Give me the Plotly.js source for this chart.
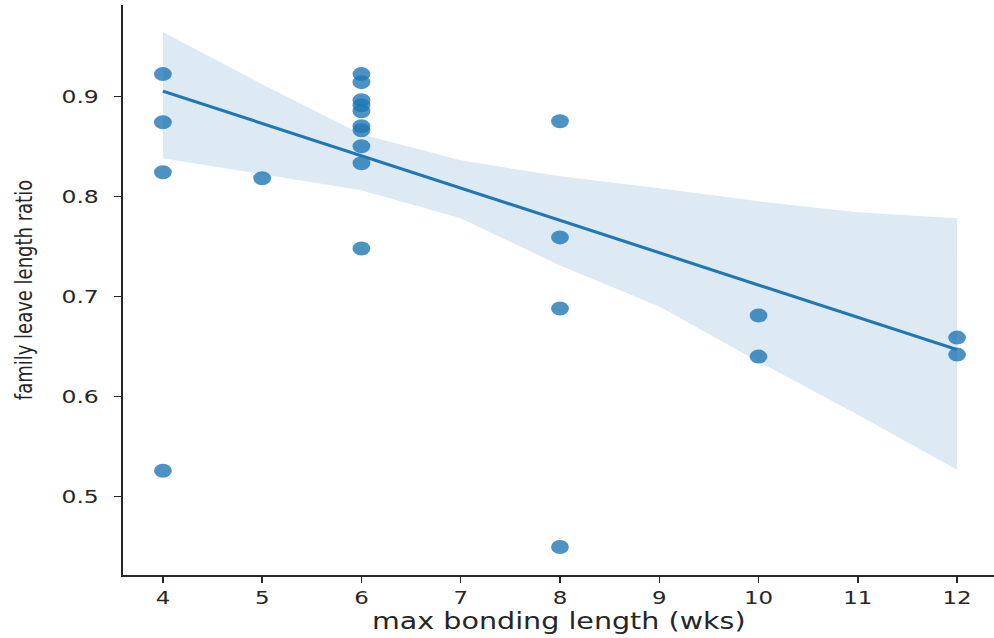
<!DOCTYPE html>
<html>
<head>
<meta charset="utf-8">
<script src="https://cdn.plot.ly/plotly-3.0.1.min.js"></script>
<style>
  html, body { margin: 0; padding: 0; background: #fff; overflow: hidden; }
  #wrap { width: 994px; height: 638px; overflow: hidden; }
  #chart { width: 783px; height: 638px; transform: scaleX(1.27); transform-origin: 0 0; }
</style>
</head>
<body>
<div id="wrap"><div id="chart"></div></div>
<script>
// Scatter data: max bonding length (weeks) vs family leave length ratio
const weeks = [4, 4, 4, 4,
               5,
               6, 6, 6, 6, 6, 6, 6, 6, 6, 6,
               8, 8, 8, 8,
               10, 10,
               12, 12];
const ratio = [0.922, 0.874, 0.824, 0.526,
               0.818,
               0.922, 0.914, 0.896, 0.891, 0.885, 0.870, 0.866, 0.850, 0.833, 0.748,
               0.875, 0.759, 0.688, 0.450,
               0.681, 0.640,
               0.659, 0.642];

// Fitted regression line
const fitX = [4, 12];
const fitY = [0.905, 0.647];

// Confidence band
const bandX     = [4, 5, 6, 7, 8, 9, 10, 11, 12];
const bandUpper = [0.964, 0.912, 0.862, 0.836, 0.820, 0.808, 0.795, 0.784, 0.778];
const bandLower = [0.838, 0.822, 0.806, 0.778, 0.731, 0.690, 0.635, 0.582, 0.527];

const xTicks = [4, 5, 6, 7, 8, 9, 10, 11, 12];
const yTicks = [0.5, 0.6, 0.7, 0.8, 0.9];

const ink = '#262626';
const font = 'DejaVu Sans, sans-serif';

const band = {
  x: bandX.concat(bandX.slice().reverse()),
  y: bandUpper.concat(bandLower.slice().reverse()),
  type: 'scatter', mode: 'lines', fill: 'toself',
  fillcolor: 'rgb(221,234,244)', line: {width: 0}, hoverinfo: 'skip', showlegend: false
};
const pts = {
  x: weeks, y: ratio, type: 'scatter', mode: 'markers',
  marker: {size: 14, color: 'rgba(31,119,180,0.8)', line: {width: 0}},
  showlegend: false
};
const fit = {
  x: fitX, y: fitY, type: 'scatter', mode: 'lines',
  line: {color: '#1f77b4', width: 3}, showlegend: false
};

const layout = {
  width: 783, height: 638,
  margin: {l: 97, r: 0, t: 5, b: 63},
  paper_bgcolor: '#fff', plot_bgcolor: '#fff',
  font: {family: font, color: ink},
  xaxis: {
    range: [3.6, 12.376], tickvals: xTicks, ticktext: xTicks.map(String),
    showgrid: false, zeroline: false, showline: true, linecolor: ink, linewidth: 1.5,
    ticks: 'outside', ticklen: 6, tickwidth: 1.2, tickcolor: ink,
    tickfont: {size: 18, family: font, color: ink},
    title: {text: 'max bonding length (wks)', font: {size: 22.5, family: font, color: ink}, standoff: 4},
    automargin: false
  },
  yaxis: {
    range: [0.422, 0.991], tickvals: yTicks, ticktext: yTicks.map(v => v.toFixed(1)),
    showgrid: false, zeroline: false, showline: true, linecolor: ink, linewidth: 1.5,
    ticks: 'outside', ticklen: 6, tickwidth: 1.2, tickcolor: ink, ticklabelstandoff: 8,
    tickfont: {size: 18.5, family: font, color: ink},
    title: {text: 'family leave length ratio', font: {size: 18, family: font, color: ink}, standoff: 18},
    automargin: false
  }
};

Plotly.newPlot('chart', [band, fit, pts], layout, {displayModeBar: false, staticPlot: true});
</script>
</body>
</html>
